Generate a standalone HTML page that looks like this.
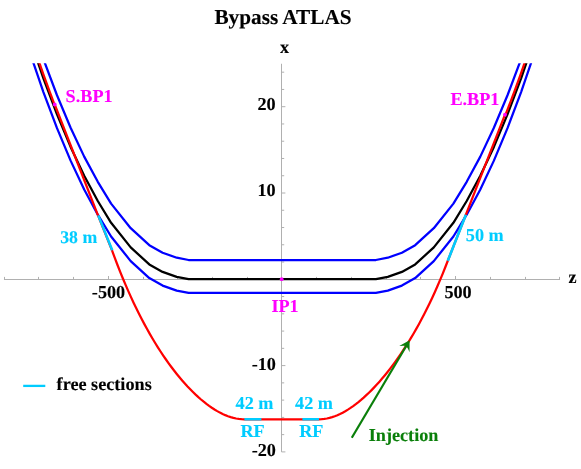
<!DOCTYPE html>
<html><head><meta charset="utf-8"><title>Bypass ATLAS</title>
<style>html,body{margin:0;padding:0;background:#fff}svg{display:block}</style></head>
<body>
<svg width="581" height="469" viewBox="0 0 581 469">
<defs><clipPath id="c"><rect x="0" y="63.2" width="581" height="389"/></clipPath><filter id="nf" x="0" y="0" width="581" height="469" filterUnits="userSpaceOnUse" color-interpolation-filters="sRGB"><feOffset dx="0" dy="0"/></filter></defs>
<rect width="581" height="469" fill="#fff"/>
<g stroke="#b0b0b0" stroke-width="1" fill="none">
<line x1="3.96" y1="279.50" x2="560.04" y2="279.50"/>
<line x1="281.50" y1="63.75" x2="281.50" y2="451.90"/>
<line x1="4.50" y1="279.50" x2="4.50" y2="276.90"/>
<line x1="38.50" y1="279.50" x2="38.50" y2="276.90"/>
<line x1="73.50" y1="279.50" x2="73.50" y2="276.90"/>
<line x1="108.50" y1="279.50" x2="108.50" y2="276.00"/>
<line x1="143.50" y1="279.50" x2="143.50" y2="276.90"/>
<line x1="177.50" y1="279.50" x2="177.50" y2="276.90"/>
<line x1="212.50" y1="279.50" x2="212.50" y2="276.90"/>
<line x1="247.50" y1="279.50" x2="247.50" y2="276.90"/>
<line x1="316.50" y1="279.50" x2="316.50" y2="276.90"/>
<line x1="351.50" y1="279.50" x2="351.50" y2="276.90"/>
<line x1="386.50" y1="279.50" x2="386.50" y2="276.90"/>
<line x1="420.50" y1="279.50" x2="420.50" y2="276.90"/>
<line x1="455.50" y1="279.50" x2="455.50" y2="276.00"/>
<line x1="490.50" y1="279.50" x2="490.50" y2="276.90"/>
<line x1="525.50" y1="279.50" x2="525.50" y2="276.90"/>
<line x1="559.50" y1="279.50" x2="559.50" y2="276.90"/>
<line x1="281.50" y1="451.90" x2="285.40" y2="451.90"/>
<line x1="281.50" y1="434.64" x2="284.20" y2="434.64"/>
<line x1="281.50" y1="417.38" x2="284.20" y2="417.38"/>
<line x1="281.50" y1="400.12" x2="284.20" y2="400.12"/>
<line x1="281.50" y1="382.86" x2="284.20" y2="382.86"/>
<line x1="281.50" y1="365.60" x2="285.40" y2="365.60"/>
<line x1="281.50" y1="348.34" x2="284.20" y2="348.34"/>
<line x1="281.50" y1="331.08" x2="284.20" y2="331.08"/>
<line x1="281.50" y1="313.82" x2="284.20" y2="313.82"/>
<line x1="281.50" y1="296.56" x2="284.20" y2="296.56"/>
<line x1="281.50" y1="262.04" x2="284.20" y2="262.04"/>
<line x1="281.50" y1="244.78" x2="284.20" y2="244.78"/>
<line x1="281.50" y1="227.52" x2="284.20" y2="227.52"/>
<line x1="281.50" y1="210.26" x2="284.20" y2="210.26"/>
<line x1="281.50" y1="193.00" x2="285.40" y2="193.00"/>
<line x1="281.50" y1="175.74" x2="284.20" y2="175.74"/>
<line x1="281.50" y1="158.48" x2="284.20" y2="158.48"/>
<line x1="281.50" y1="141.22" x2="284.20" y2="141.22"/>
<line x1="281.50" y1="123.96" x2="284.20" y2="123.96"/>
<line x1="281.50" y1="106.70" x2="285.40" y2="106.70"/>
<line x1="281.50" y1="89.44" x2="284.20" y2="89.44"/>
<line x1="281.50" y1="72.18" x2="284.20" y2="72.18"/>
</g>
<g clip-path="url(#c)" fill="none" stroke-width="2.25" stroke-linejoin="round">
<path d="M16.20,-23.88 L29.80,19.43 L43.40,59.13 L57.00,95.23 L70.60,127.73 L84.20,156.63 L97.80,181.80 L111.10,203.60 L130.70,228.20 L149.30,245.20 L162.60,252.70 L176.70,257.70 L188.60,260.00 L375.90,260.00 L387.80,257.70 L401.90,252.70 L415.20,245.20 L433.80,228.20 L453.40,203.60 L466.70,181.80 L480.30,156.63 L493.90,127.73 L507.50,95.23 L521.10,59.13 L534.70,19.43 L548.30,-23.88" stroke="#0000ff"/>
<path d="M16.20,9.02 L29.80,52.33 L43.40,92.03 L57.00,128.13 L70.60,160.63 L84.20,189.53 L97.80,214.70 L111.10,236.50 L130.70,261.10 L149.30,278.10 L162.60,285.60 L176.70,290.60 L188.60,292.90 L375.90,292.90 L387.80,290.60 L401.90,285.60 L415.20,278.10 L433.80,261.10 L453.40,236.50 L466.70,214.70 L480.30,189.53 L493.90,160.63 L507.50,128.13 L521.10,92.03 L534.70,52.33 L548.30,9.02" stroke="#0000ff"/>
<path d="M16.20,-4.68 L29.80,38.63 L43.40,78.33 L57.00,114.43 L70.60,146.93 L84.20,175.83 L97.80,201.00 L111.10,222.80 L130.70,247.40 L149.30,264.40 L162.60,271.90 L176.70,276.90 L188.60,279.20 L375.90,279.20 L387.80,276.90 L401.90,271.90 L415.20,264.40 L433.80,247.40 L453.40,222.80 L466.70,201.00 L480.30,175.83 L493.90,146.93 L507.50,114.43 L521.10,78.33 L534.70,38.63 L548.30,-4.68" stroke="#000"/>
<path d="M25.00,19.33 L26.00,22.49 L27.00,25.64 L28.00,28.76 L29.00,31.87 L30.00,34.95 L31.00,38.02 L32.00,41.06 L33.00,44.09 L34.00,47.10 L35.00,50.08 L36.00,53.05 L37.00,56.00 L38.00,58.93 L39.00,61.84 L40.00,64.73 L41.00,67.60 L42.00,70.45 L43.00,73.28 L44.00,76.09 L45.00,78.89 L46.00,81.66 L47.00,84.41 L48.00,87.15 L49.00,89.86 L50.00,92.56 L51.00,95.23 L52.00,97.89 L53.00,100.53 L54.00,103.15 L54.70,104.50 L98.00,215.40 L112.00,250.31 L114.70,257.65 L117.40,264.74 L120.09,271.60 L122.79,278.24 L125.49,284.66 L128.19,290.87 L130.89,296.88 L133.58,302.69 L136.28,308.32 L138.98,313.76 L141.68,319.03 L144.38,324.14 L147.07,329.08 L149.77,333.86 L152.47,338.49 L155.17,342.98 L157.87,347.31 L160.56,351.51 L163.26,355.58 L165.96,359.51 L168.66,363.31 L171.36,366.99 L174.05,370.54 L176.75,373.97 L179.45,377.27 L182.15,380.46 L184.84,383.53 L187.54,386.49 L190.24,389.32 L192.94,392.04 L195.64,394.65 L198.33,397.13 L201.03,399.50 L203.73,401.74 L206.43,403.87 L209.13,405.87 L211.82,407.75 L214.52,409.50 L217.22,411.12 L219.92,412.61 L222.62,413.96 L225.31,415.17 L228.01,416.23 L230.71,417.14 L233.41,417.91 L236.11,418.51 L238.80,418.94 L241.50,419.21 L244.20,419.30 L319.00,419.30 L321.63,419.21 L324.26,418.94 L326.89,418.51 L329.51,417.91 L332.14,417.15 L334.77,416.24 L337.40,415.19 L340.03,413.99 L342.66,412.66 L345.29,411.20 L347.91,409.61 L350.54,407.90 L353.17,406.07 L355.80,404.12 L358.43,402.05 L361.06,399.88 L363.69,397.59 L366.31,395.20 L368.94,392.70 L371.57,390.09 L374.20,387.38 L376.83,384.56 L379.46,381.64 L382.09,378.61 L384.71,375.48 L387.34,372.24 L389.97,368.89 L392.60,365.43 L395.23,361.86 L397.86,358.18 L400.49,354.38 L403.11,350.45 L405.74,346.41 L408.37,342.24 L411.00,337.93 L413.63,333.49 L416.26,328.91 L418.89,324.18 L421.51,319.31 L424.14,314.27 L426.77,309.07 L429.40,303.71 L432.03,298.16 L434.66,292.44 L437.29,286.52 L439.91,280.40 L442.54,274.08 L445.17,267.54 L447.80,260.77 L465.90,214.70 L505.00,114.70 L506.00,113.42 L507.00,110.88 L508.00,108.32 L509.00,105.74 L510.00,103.15 L511.00,100.53 L512.00,97.89 L513.00,95.23 L514.00,92.56 L515.00,89.86 L516.00,87.15 L517.00,84.41 L518.00,81.66 L519.00,78.89 L520.00,76.09 L521.00,73.28 L522.00,70.45 L523.00,67.60 L524.00,64.73 L525.00,61.84 L526.00,58.93 L527.00,56.00 L528.00,53.05 L529.00,50.08 L530.00,47.10 L531.00,44.09 L532.00,41.06 L533.00,38.02 L534.00,34.95 L535.00,31.87 L536.00,28.76 L537.00,25.64 L538.00,22.49 L539.00,19.33 L540.00,16.15" stroke="#ff0000"/>
<path d="M98.00,215.40 L112.00,250.31" stroke="#00ccff" stroke-width="2.5" transform="translate(0.25,0)"/>
<path d="M465.90,214.70 L447.80,260.77" stroke="#00ccff" stroke-width="2.6"/>
<path d="M244.4,419.30 L261.4,419.30 M302.4,419.30 L319,419.30" stroke="#00ccff" stroke-width="2.6"/>
</g>
<line x1="23.2" y1="385.9" x2="45.3" y2="385.9" stroke="#00ccff" stroke-width="2.3"/>
<circle cx="54.70" cy="104.50" r="1.9" fill="#ff00ff"/>
<circle cx="505.00" cy="114.70" r="1.9" fill="#ff00ff"/>
<circle cx="281.70" cy="279.20" r="1.9" fill="#ff00ff"/>
<line x1="351.80" y1="437.70" x2="406.23" y2="345.98" stroke="#0a7f0a" stroke-width="2.2"/>
<path d="M409.60,340.30 L409.55,352.13 Q407.79,348.06 406.23,345.98 Q403.66,345.61 399.23,346.01 Z" fill="#0a7f0a"/>
<g font-family="'Liberation Serif', serif" font-weight="bold" filter="url(#nf)" text-rendering="geometricPrecision">
<text x="214.40" y="24.40" fill="#000" stroke="#000" stroke-width="0.12" text-anchor="start" font-size="21.25">Bypass ATLAS</text>
<text x="279.90" y="52.80" fill="#000" stroke="#000" stroke-width="0.12" text-anchor="start" font-size="18.2">x</text>
<text x="568.50" y="282.70" fill="#000" stroke="#000" stroke-width="0.12" text-anchor="start" font-size="18.2">z</text>
<text x="65.60" y="101.70" fill="#ff00ff" stroke="#ff00ff" stroke-width="0.12" text-anchor="start" font-size="18.2">S.BP1</text>
<text x="450.40" y="104.70" fill="#ff00ff" stroke="#ff00ff" stroke-width="0.12" text-anchor="start" font-size="18.2">E.BP1</text>
<text x="271.40" y="312.00" fill="#ff00ff" stroke="#ff00ff" stroke-width="0.12" text-anchor="start" font-size="18.2">IP1</text>
<text x="275.70" y="109.70" fill="#000" stroke="#000" stroke-width="0.12" text-anchor="end" font-size="18.2">20</text>
<text x="275.70" y="195.80" fill="#000" stroke="#000" stroke-width="0.12" text-anchor="end" font-size="18.2">10</text>
<text x="275.90" y="369.80" fill="#000" stroke="#000" stroke-width="0.12" text-anchor="end" font-size="18.2">-10</text>
<text x="275.90" y="455.80" fill="#000" stroke="#000" stroke-width="0.12" text-anchor="end" font-size="18.2">-20</text>
<text x="125.20" y="297.80" fill="#000" stroke="#000" stroke-width="0.12" text-anchor="end" font-size="18.2">-500</text>
<text x="444.40" y="297.80" fill="#000" stroke="#000" stroke-width="0.12" text-anchor="start" font-size="18.2">500</text>
<text x="60.20" y="243.00" fill="#00ccff" stroke="#00ccff" stroke-width="0.12" text-anchor="start" font-size="17.8">38 m</text>
<text x="465.80" y="241.00" fill="#00ccff" stroke="#00ccff" stroke-width="0.12" text-anchor="start" font-size="18.2">50 m</text>
<text x="235.60" y="409.00" fill="#00ccff" stroke="#00ccff" stroke-width="0.12" text-anchor="start" font-size="18.2">42 m</text>
<text x="295.10" y="409.00" fill="#00ccff" stroke="#00ccff" stroke-width="0.12" text-anchor="start" font-size="18.2">42 m</text>
<text x="240.40" y="437.10" fill="#00ccff" stroke="#00ccff" stroke-width="0.12" text-anchor="start" font-size="18.2">RF</text>
<text x="299.20" y="437.10" fill="#00ccff" stroke="#00ccff" stroke-width="0.12" text-anchor="start" font-size="18.2">RF</text>
<text x="56.60" y="389.60" fill="#000" stroke="#000" stroke-width="0.12" text-anchor="start" font-size="18.2">free sections</text>
<text x="368.70" y="440.70" fill="#0a7f0a" stroke="#0a7f0a" stroke-width="0.12" text-anchor="start" font-size="18.2">Injection</text>
</g>
</svg>
</body></html>
